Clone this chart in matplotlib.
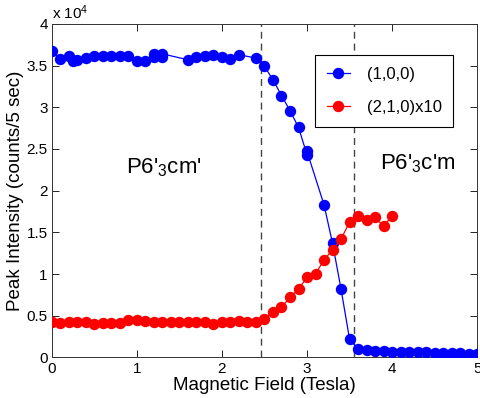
import matplotlib
matplotlib.use("Agg")
import matplotlib.pyplot as plt

plt.rcParams['font.family'] = ['Liberation Sans', 'DejaVu Sans']
plt.rcParams['mathtext.fontset'] = 'custom'
plt.rcParams['mathtext.rm'] = 'Liberation Sans'
plt.rcParams['mathtext.it'] = 'Liberation Sans'

# (1,0,0) intensity, units of 1e4 counts / 5 sec
x100 = [0, 0.1, 0.2, 0.25, 0.3, 0.4, 0.5, 0.6, 0.7, 0.8, 0.9, 1.0, 1.1, 1.2, 1.2, 1.3, 1.3,
        1.6, 1.7, 1.8, 1.9, 2.0, 2.1, 2.2, 2.4, 2.5, 2.6, 2.7, 2.8, 2.9, 3.0, 3.0,
        3.2, 3.3, 3.4, 3.5, 3.6, 3.7, 3.8, 3.9, 4.0, 4.1, 4.2, 4.3, 4.4, 4.5, 4.6,
        4.7, 4.8, 4.9, 5.0]
y100 = [3.67, 3.58, 3.62, 3.56, 3.57, 3.59, 3.61, 3.62, 3.62, 3.62, 3.61, 3.56, 3.55, 3.64, 3.60,
        3.60, 3.64, 3.57, 3.60, 3.62, 3.63, 3.60, 3.58, 3.63, 3.59, 3.49, 3.33, 3.14, 2.96,
        2.76, 2.43, 2.47, 1.83, 1.37, 0.82, 0.22, 0.10, 0.085, 0.08, 0.075, 0.07, 0.065,
        0.065, 0.06, 0.06, 0.055, 0.05, 0.05, 0.05, 0.045, 0.045]

# (2,1,0) intensity x10, units of 1e4
x210 = [round(0.1 * i, 1) for i in range(41)]
y210 = [0.42, 0.41, 0.42, 0.42, 0.42, 0.40, 0.41, 0.41, 0.41, 0.45, 0.45, 0.44, 0.43,
        0.42, 0.42, 0.43, 0.43, 0.42, 0.43, 0.40, 0.42, 0.42, 0.44, 0.43, 0.43, 0.46,
        0.55, 0.60, 0.72, 0.82, 0.96, 1.00, 1.17, 1.29, 1.42, 1.62, 1.69, 1.65, 1.68,
        1.57, 1.70]

transitions = [2.46, 3.55]
xticks = [0, 1, 2, 3, 4, 5]
yticks = [0, 0.5, 1, 1.5, 2, 2.5, 3, 3.5, 4]
yticklabels = ['0', '0.5', '1', '1.5', '2', '2.5', '3', '3.5', '4']

fig = plt.figure(figsize=(4.8, 3.98), dpi=100)
ax = fig.add_axes([0.108, 0.102, 0.886, 0.838])

for xv in transitions:
    ax.axvline(xv, color='#444444', lw=1.0, ls=(0, (5, 3.5)), zorder=1)

ax.plot(x100, y100, '-o', color='#0000ff', lw=0.9, ms=7.2, label='(1,0,0)', zorder=3)
ax.plot(x210, y210, '-o', color='#ff0000', lw=0.9, ms=7.2, label='(2,1,0)x10', zorder=3)

ax.set_xlim(0, 5)
ax.set_ylim(0, 4)
ax.set_xticks(xticks)
ax.set_yticks(yticks)
ax.set_yticklabels(yticklabels)
ax.tick_params(direction='in', top=True, right=True, length=5, width=0.6,
               labelsize=11, colors='black', pad=3)
for s in ax.spines.values():
    s.set_linewidth(0.7)
    s.set_color('#333333')

ax.set_xlabel('Magnetic Field (Tesla)', fontsize=13.5, labelpad=1)
ax.set_ylabel('Peak Intensity (counts/5 sec)', fontsize=13.5, labelpad=2)
ax.text(0.0, 1.005, r'x 10$^{4}$', transform=ax.transAxes, fontsize=11,
        ha='left', va='bottom')

ax.text(1.32, 2.28, r"P6'$_{3}$cm'", fontsize=16, ha='center', va='center')
ax.text(4.30, 2.32, r"P6'$_{3}$c'm", fontsize=16, ha='center', va='center')

leg = ax.legend(loc='upper right', bbox_to_anchor=(0.944, 0.907), fontsize=12,
                frameon=True, fancybox=False, edgecolor='black', framealpha=1,
                labelspacing=1.1, handlelength=1.4, borderpad=0.7, handletextpad=1.0,
                borderaxespad=0)
leg.get_frame().set_linewidth(0.8)

fig.savefig('out.png', dpi=100)
